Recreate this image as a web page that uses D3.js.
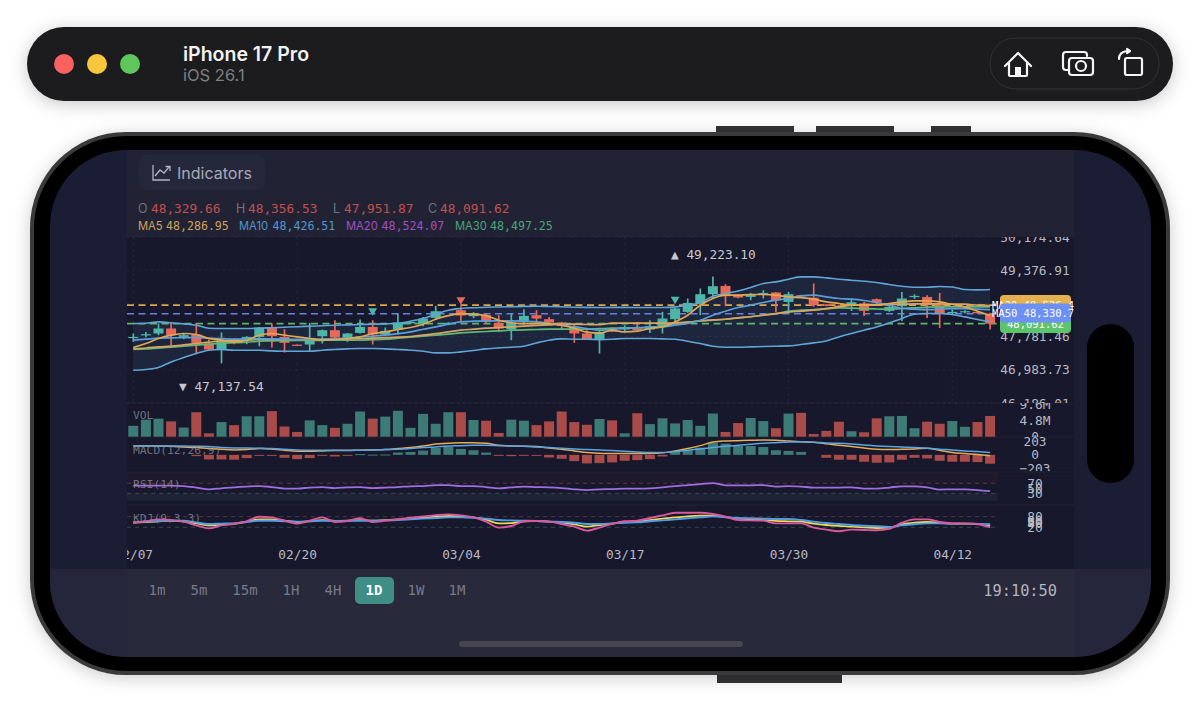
<!DOCTYPE html>
<html>
<head>
<meta charset="utf-8">
<script src="https://cdn.jsdelivr.net/npm/d3@7"></script>
<style>
  html, body { margin: 0; padding: 0; background: #fff; }
  svg { display: block; }
  text { font-family: "DejaVu Sans Mono", monospace; }
  .sans { font-family: Inter, sans-serif; }
  .axis path, .axis line { display: none; }
  .axis text { fill: #b9bac4; font-size: 12.8px; text-anchor: middle; font-family: "DejaVu Sans Mono", monospace; }
</style>
</head>
<body>
<svg id="chart" width="1200" height="718"></svg>
<script>
const dateIndex = [0, 13, 26, 39, 52, 65];
const dateLabels = ["02/07", "02/20", "03/04", "03/17", "03/30", "04/12"];
const timeframes = ["1m", "5m", "15m", "1H", "4H", "1D", "1W", "1M"];

const opens = [47757,47822,47856,47976,47774,47832,47615,47471,47695,47695,47774,48000,47774,47587,47591,47791,47935,47750,47870,48014,47832,47952,48103,48096,48231,48079,48416,48272,48296,48111,47952,48159,48296,48200,48120,48014,47856,47695,47935,47952,47976,47952,48014,48200,48375,48577,48800,48999,48776,48735,48800,48841,48615,48776,48716,48553,48524,48548,48577,48680,48399,48512,48735,48735,48536,48351,48368,48375,48329.66];
const closes = [47774,47839,47976,47815,47815,47630,47471,47671,47654,47774,48000,47791,47630,47563,47750,47935,47760,47856,48014,47832,47918,48120,48132,48216,48392,48111,48288,48336,48135,47976,48120,48279,48216,48120,48038,47856,47719,47894,47899,48014,47935,48031,48216,48457,48591,48800,48992,48752,48721,48793,48831,48656,48800,48752,48536,48519,48500,48608,48399,48601,48495,48697,48759,48536,48336,48375,48392,48344,48091.62];
const highs = [47856,47894,48096,48111,47856,48111,47712,47880,47736,47791,48014,48096,47959,47594,48111,47952,48175,47870,48192,48175,48000,48336,48151,48255,48519,48127,48512,48368,48336,48296,48336,48440,48416,48255,48135,48072,47935,47935,47942,48055,48135,48175,48375,48471,48697,48937,49223.10,49040,48800,48831,48896,48855,48855,48788,49057,48560,48536,48697,48615,48697,48577,48855,48800,48776,48831,48432,48416,48392,48356.53];
const lows = [47654,47767,47815,47575,47719,47358,47454,47137.54,47599,47599,47551,47519,47399,47555,47414,47615,47736,47654,47856,47591,47815,47832,48079,48031,48192,48055,48135,48223,48096,47887,47695,48096,48096,48072,47952,47630,47712,47375,47892,47894,47928,47870,47856,48135,48351,48296,48697,48512,48704,48656,48697,48375,48375,48740,48500,48512,48488,48399,48279,48536,48375,48159,48687,48231,47990,48296,48344,48332,47951.87];

const ma5 = [47519,47615,47736,47815,47856,47832,47736,47695,47654,47695,47815,47856,47815,47774,47736,47695,47712,47736,47774,47856,47894,47952,48000,48079,48199,48284,48332,48320,48284,48175,48115,48091,48091,48091,48055,47983,47887,47863,47935,47894,47911,47976,48014,48135,48296,48536,48697,48776,48776,48793,48793,48776,48735,48716,48680,48615,48577,48536,48536,48536,48577,48615,48639,48639,48615,48553,48495,48392,48286.95];
const ma10 = [47695,47719,47743,47750,47755,47760,47743,47731,47719,47719,47731,47726,47719,47712,47712,47719,47731,47743,47774,47791,47815,47851,47894,47959,48014,48079,48135,48151,48159,48159,48159,48151,48135,48103,48055,48019,47976,47935,47959,47983,47995,48007,48014,48055,48096,48175,48296,48392,48481,48536,48601,48656,48697,48759,48776,48735,48697,48680,48649,48601,48536,48457,48440,48428,48440,48452,48452,48440,48426.51];
const ma20 = [47495,47507,47534,47551,47582,47615,47647,47678,47688,47700,47712,47712,47712,47712,47712,47714,47719,47724,47736,47743,47755,47767,47784,47815,47851,47894,47935,47959,47983,48000,48014,48031,48048,48062,48079,48079,48072,48067,48103,48103,48103,48103,48103,48111,48127,48159,48183,48199,48231,48259,48296,48332,48368,48392,48416,48452,48495,48536,48548,48548,48553,48560,48567,48567,48567,48560,48560,48536,48524.07];
const ma30 = [47471,47483,47503,47527,47551,47575,47599,47623,47635,47647,47671,47678,47683,47688,47690,47692,47695,47695,47695,47707,47719,47743,47767,47791,47815,47839,47870,47887,47904,47918,47935,47942,47952,47959,47959,47959,47959,47971,47983,47988,47993,48000,48031,48096,48127,48159,48175,48199,48231,48259,48296,48332,48392,48416,48428,48452,48471,48464,48452,48445,48440,48457,48471,48488,48495,48495,48495,48495,48497.25];
const bollUpper = [48096,48103,48135,48115,48087,48055,47983,47976,47976,47976,47983,47995,48007,48019,48031,48043,48055,48062,48072,48079,48087,48103,48151,48216,48320,48416,48457,48476,48488,48493,48500,48507,48512,48505,48497,48488,48483,48481,48483,48483,48481,48481,48481,48495,48536,48601,48752,48817,48879,48961,49057,49096,49161,49216,49216,49192,49161,49137,49113,49081,49033,48992,48968,48968,48985,48975,48913,48904,48913];
const bollLower = [46974,46991,47039,47173,47279,47375,47454,47471,47454,47454,47454,47438,47430,47430,47430,47454,47471,47486,47495,47495,47486,47471,47454,47430,47390,47390,47414,47447,47486,47510,47527,47551,47630,47695,47726,47719,47719,47712,47719,47736,47736,47736,47726,47719,47671,47615,47551,47527,47527,47534,47543,47551,47558,47591,47630,47678,47774,47856,47935,48014,48111,48216,48320,48336,48336,48312,48255,48192,48135];

const volumes = [3.2,5.0,5.3,4.5,2.7,7.2,1.0,4.3,3.4,6.0,6.0,7.5,3.0,1.4,4.8,3.4,2.6,3.8,7.4,5.3,5.9,7.6,2.6,6.7,3.8,7.2,7.2,4.9,4.7,1.1,5.0,4.7,3.4,4.5,7.4,4.3,3.5,5.2,4.8,1.0,6.9,3.7,5.4,3.9,4.9,3.2,6.8,1.4,4.0,5.5,4.6,2.5,6.8,7.0,0.8,1.7,4.4,1.6,1.3,5.4,6.0,6.1,2.5,4.4,3.8,4.6,2.9,4.3,6.1];
const macdHist = [0,0,0,0,0,-19,-68,-68,-72,-48,-5,-5,-43,-63,-48,-10,-24,-7,10,3,5,34,43,63,101,116,87,68,34,-14,-19,-14,-14,-39,-58,-92,-126,-121,-111,-87,-77,-63,-24,48,68,106,179,164,130,130,116,68,58,43,0,-43,-72,-72,-101,-116,-111,-72,-43,-53,-87,-101,-101,-106,-130];
const macdDea = [130,130,130,130,130,126,121,106,101,101,97,92,82,72,68,68,68,68,68,72,77,82,92,106,116,130,135,140,140,135,130,126,116,106,97,87,77,72,63,53,43,34,34,48,68,87,106,126,140,155,169,179,188,193,184,174,169,159,145,130,121,116,106,97,82,72,58,48,34];
const macdDif = [130,130,130,126,116,106,92,82,72,77,92,87,68,53,53,58,63,63,68,72,77,92,106,130,159,169,179,179,169,140,130,126,121,101,82,58,34,24,19,19,19,19,29,58,92,135,188,203,208,213,217,213,203,193,184,164,140,121,101,82,77,82,87,97,68,34,19,5,-14];
const rsi = [61,61,61,61,59,53,46,50,54,57,59,55,49,49,53,55,51,54,55,51,53,55,58,59,63,63,59,59,55,50,54,57,55,54,51,46,43,46,47,49,49,50,54,59,63,67,71,62,62,62,63,57,59,57,53,53,53,54,49,49,53,58,58,54,45,46,46,43,39];
const kdjK = [48,52,56,57.5,57.5,48,39,41,42.5,50,57.5,57.5,54,52,54,57.5,56,56,57.5,57.5,59,61,65,69,72.5,76,76,74,69,61,59,57.5,56,52,50,46,39,39,42.5,46,48,54,59,65,71,76,82,76,72.5,71,69,67,67,61,52,44,39,33,29,26,22,31,37,42.5,42.5,41,41,39,37];
const kdjD = [46,50,54,56,54,42.5,31,35,41,52,65,65,57.5,50,54,61,56,57.5,61,57.5,61,65,69,74,80,84,82,76,63,42.5,44,54,56,52,46,37,24,33,41,50,52,61,69,76,82,86,86,78,69,65,61,56,54,52,41,33,27.5,24,20,16,18,37,46,50,46,41,41,39,27.5];
const kdjJ = [46,54,65,61,52,31,14,31,39,54,80,76,57.5,41,57.5,76,50,56,71,50,57.5,65,74,82,89,93,87.5,76,52,18,27.5,54,56,52,39,24,1,18,39,54,57.5,72.5,87.5,102.5,102.5,102.5,95,80,61,59,57.5,42.5,42.5,42.5,18,7,-2.5,7,5,3,11,46,65,65,50,42.5,41,37,20];

const priceTicks = [50174.64, 49376.91, 48579.18, 47781.46, 46983.73, 46186.01];
const shownPriceTicks = [50174.64, 49376.91, 47781.46, 46983.73, 46186.01];
const volTicks = [9.6, 4.8, 0];
const macdTicks = [203, 0, -203];
const rsiTicks = [70, 50, 30];
const kdjTicks = [80, 60, 50, 40, 20];

const markerIndex = [19, 26, 43];
const markerPrice = [48404, 48668, 48680];
const markerColor = ["#4db6a6", "#e8695a", "#4db6a6"];

const up = "#4db6a6", down = "#e8695a";
const upDim = "#3c7b76", downDim = "#a84b49";
const n = closes.length;

const svg = d3.select("#chart");
const defs = svg.append("defs");

const clip = (id, x, y, w, h) => defs.append("clipPath").attr("id", id)
  .append("rect").attr("x", x).attr("y", y).attr("width", w).attr("height", h);
clip("pricePane", 127, 237, 947, 166);
clip("volPane", 127, 403, 947, 34);
clip("macdPane", 127, 437, 947, 34);
clip("dateClip", 127, 540, 947, 29);
defs.append("clipPath").attr("id", "screenClip").append("rect")
  .attr("x", 50).attr("y", 150).attr("width", 1101).attr("height", 507).attr("rx", 76);

// device toolbar
const toolbar = svg.append("g");
toolbar.append("rect").attr("x", 27).attr("y", 27).attr("width", 1146).attr("height", 74).attr("rx", 37)
  .attr("fill", "#1c1c1e").style("filter", "drop-shadow(0 3px 9px rgba(0,0,0,.22))");
[["#f9625f", 64], ["#f8c63d", 97], ["#5ec65b", 130]].forEach(([c, x]) => {
  toolbar.append("circle").attr("cx", x).attr("cy", 64).attr("r", 10).attr("fill", c);
});
toolbar.append("text").attr("class", "sans").attr("x", 183).attr("y", 61).attr("font-size", 19.5)
  .attr("font-weight", 600).attr("fill", "#f2f2f2").text("iPhone 17 Pro");
toolbar.append("text").attr("class", "sans").attr("x", 183).attr("y", 81).attr("font-size", 16.5)
  .attr("fill", "#7f7f82").text("iOS 26.1");
toolbar.append("rect").attr("x", 990).attr("y", 38).attr("width", 169).attr("height", 51).attr("rx", 25.5)
  .attr("fill", "none").attr("stroke", "#333335").attr("stroke-width", 1);
const icons = toolbar.append("g").attr("fill", "none").attr("stroke", "#f5f5f5").attr("stroke-width", 2.2)
  .attr("stroke-linejoin", "round").attr("stroke-linecap", "round");
icons.append("path").attr("d", "M1005 66 L1018 53 L1031 66 M1009 63 V75 Q1009 76 1010 76 H1026 Q1027 76 1027 75 V63");
icons.append("rect").attr("x", 1015).attr("y", 67).attr("width", 6).attr("height", 9).attr("fill", "#f5f5f5").attr("stroke", "none");
icons.append("path").attr("d", "M1068 70 H1066 Q1063 70 1063 67 V55 Q1063 52 1066 52 H1084 Q1087 52 1087 55 V56");
icons.append("rect").attr("x", 1069).attr("y", 58).attr("width", 24).attr("height", 17).attr("rx", 3).attr("fill", "#1c1c1e");
icons.append("circle").attr("cx", 1081).attr("cy", 66).attr("r", 5);
icons.append("rect").attr("x", 1125).attr("y", 58).attr("width", 17).attr("height", 17).attr("rx", 2);
icons.append("path").attr("d", "M1119 59 Q1119 52 1127 51");
icons.append("path").attr("d", "M1127 49 L1130 51 L1127 53").attr("fill", "#f5f5f5");

// phone body
[[716, 126, 78], [816, 126, 78], [931, 126, 40]].forEach(([x, y, w]) => {
  svg.append("rect").attr("x", x).attr("y", y).attr("width", w).attr("height", 8).attr("fill", "#333335");
});
svg.append("rect").attr("x", 717).attr("y", 673).attr("width", 125).attr("height", 10).attr("fill", "#333335");
svg.append("rect").attr("x", 30).attr("y", 132).attr("width", 1140).attr("height", 543).attr("rx", 96)
  .attr("fill", "#3a3a3c").style("filter", "drop-shadow(0 3px 9px rgba(0,0,0,.2))");
svg.append("rect").attr("x", 34).attr("y", 136).attr("width", 1132).attr("height", 535).attr("rx", 92).attr("fill", "#000");

const screen = svg.append("g").attr("clip-path", "url(#screenClip)");
const block = (x, y, w, h, c) => screen.append("rect").attr("x", x).attr("y", y).attr("width", w).attr("height", h).attr("fill", c);
block(50, 150, 1101, 507, "#1b1d34");
block(127, 237, 947, 332, "#17182b");
block(127, 150, 947, 87, "#212335");
block(50, 569, 1101, 88, "#25263c");
block(127, 569, 947, 88, "#28293b");

// header
block(139, 155, 126, 35, "#25273a").attr("rx", 8);
screen.append("path").attr("d", "M153 165 V180 H170 M155 176 L160 170 L164 173 L169 167 M165.5 166.5 H170 V171")
  .attr("fill", "none").attr("stroke", "#b4b5c1").attr("stroke-width", 1.3);
screen.append("text").attr("class", "sans").attr("x", 177).attr("y", 178.5).attr("font-size", 16)
  .attr("fill", "#a9aab6").text("Indicators");

const legendText = (x, y, str, color, size, cls) => screen.append("text").attr("class", cls || null)
  .attr("x", x).attr("y", y).attr("font-size", size).attr("fill", color).text(str);
[["O", 138, 151, opens], ["H", 236, 248, highs], ["L", 333, 344, lows], ["C", 428, 440, closes]].forEach(([k, lx, vx, arr]) => {
  legendText(lx, 213, k, "#70727f", 12.5, "sans");
  legendText(vx, 213, d3.format(",.2f")(arr[n - 1]), "#c4504e", 12.8);
});
[["MA5", 138, 166, ma5, "#d0a25c"], ["MA10", 239, 272.5, ma10, "#5596cf"], ["MA20", 346, 381.5, ma20, "#a24fc0"], ["MA30", 455, 490, ma30, "#4aa67a"]].forEach(([k, lx, vx, arr, c]) => {
  legendText(lx, 229.5, k, c, 11.2, "sans");
  legendText(vx, 229.5, d3.format(",.2f")(arr[n - 1]), c, 11.6);
});

// scales
const x = d3.scaleLinear().domain([0, n - 1]).range([133.3, 990.1]);
const yPrice = d3.scaleLinear().domain([46186.01, 50174.64]).range([403, 237]);
const yVol = d3.scaleLinear().domain([0, 9.6]).range([436.7, 404]);
const yMacd = d3.scaleLinear().domain([-203, 203]).range([468.7, 441]);
const yRsi = d3.scaleLinear().domain([0, 100]).range([500.8, 475.8]);
const yKdj = d3.scaleLinear().domain([20, 80]).range([527.3, 516.7]);
const bodyW = 10;

const lineOf = (y) => d3.line().x((d, i) => x(i)).y((d) => y(d)).curve(d3.curveMonotoneX);
const drawLine = (parent, arr, y, color, w) => parent.append("path").datum(arr)
  .attr("d", lineOf(y)).attr("fill", "none").attr("stroke", color).attr("stroke-width", w || 1.6);

// grid and pane rules
const grid = screen.append("g").attr("stroke", "#ffffff").attr("stroke-opacity", 0.07).attr("stroke-dasharray", "2,4");
grid.selectAll(".v").data(dateIndex).enter().append("line")
  .attr("x1", (d) => x(d)).attr("x2", (d) => x(d)).attr("y1", 237).attr("y2", 403);
grid.selectAll(".h").data(priceTicks).enter().append("line")
  .attr("x1", 127).attr("x2", 998).attr("y1", (d) => yPrice(d)).attr("y2", (d) => yPrice(d));
[403, 437, 472, 505].forEach((y) => {
  screen.append("line").attr("x1", 127).attr("x2", 1074).attr("y1", y).attr("y2", y)
    .attr("stroke", "#ffffff").attr("stroke-opacity", 0.05);
});

// price pane
const price = screen.append("g").attr("clip-path", "url(#pricePane)");
const band = d3.area().x((d, i) => x(i)).y0((d, i) => yPrice(bollLower[i])).y1((d) => yPrice(d)).curve(d3.curveMonotoneX);
price.append("path").datum(bollUpper).attr("d", band).attr("fill", "#5b9ed8").attr("fill-opacity", 0.11);

const priceLines = [[48536, "#d9a84e"], [48330.7, "#6a80e2"], [48091.62, "#5fb36a"]];
price.selectAll(".priceLine").data(priceLines).enter().append("line")
  .attr("x1", 127).attr("x2", 998).attr("y1", (d) => yPrice(d[0])).attr("y2", (d) => yPrice(d[0]))
  .attr("stroke", (d) => d[1]).attr("stroke-width", 1.7).attr("stroke-dasharray", "7,4.5");

const candleColor = (i) => (closes[i] >= opens[i] ? up : down);
price.selectAll(".wick").data(closes).enter().append("line")
  .attr("x1", (d, i) => x(i)).attr("x2", (d, i) => x(i))
  .attr("y1", (d, i) => yPrice(highs[i])).attr("y2", (d, i) => yPrice(lows[i]))
  .attr("stroke", (d, i) => candleColor(i)).attr("stroke-width", 1.7);
price.selectAll(".body").data(closes).enter().append("rect")
  .attr("x", (d, i) => x(i) - bodyW / 2).attr("width", bodyW)
  .attr("y", (d, i) => yPrice(Math.max(opens[i], d)))
  .attr("height", (d, i) => Math.max(1.2, Math.abs(yPrice(opens[i]) - yPrice(d))))
  .attr("fill", (d, i) => candleColor(i));

drawLine(price, bollUpper, yPrice, "#5fa5d6");
drawLine(price, bollLower, yPrice, "#5fa5d6");
drawLine(price, ma30, yPrice, "#5fb878", 1.7);
drawLine(price, ma20, yPrice, "#d9a45f", 1.7);
drawLine(price, ma10, yPrice, "#5a9fdc", 1.7);
drawLine(price, ma5, yPrice, "#e3a74f", 1.7);

price.selectAll(".marker").data(markerIndex).enter().append("path")
  .attr("d", d3.symbol(d3.symbolTriangle, 34))
  .attr("transform", (d, i) => `translate(${x(d)},${yPrice(markerPrice[i])}) rotate(180)`)
  .attr("fill", (d, i) => markerColor[i]);

screen.append("text").attr("x", 671).attr("y", 258.5).attr("font-size", 12.8).attr("fill", "#c8c9d2")
  .text("▲ " + d3.format(",.2f")(d3.max(highs)));
screen.append("text").attr("x", 179).attr("y", 390.5).attr("font-size", 12.8).attr("fill", "#c8c9d2")
  .text("▼ " + d3.format(",.2f")(d3.min(lows)));

// volume
const vol = screen.append("g").attr("clip-path", "url(#volPane)");
vol.selectAll(".barVol").data(volumes).enter().append("rect")
  .attr("x", (d, i) => x(i) - bodyW / 2).attr("width", bodyW)
  .attr("y", (d) => yVol(d)).attr("height", (d) => yVol(0) - yVol(d))
  .attr("fill", (d, i) => (closes[i] >= opens[i] ? upDim : downDim));

// macd
const macd = screen.append("g").attr("clip-path", "url(#macdPane)");
macd.selectAll(".barMacd").data(macdHist).enter().append("rect")
  .attr("x", (d, i) => x(i) - bodyW / 2).attr("width", bodyW)
  .attr("y", (d) => Math.min(yMacd(d), yMacd(0)))
  .attr("height", (d) => (d === 0 ? 0 : Math.max(1, Math.abs(yMacd(d) - yMacd(0)))))
  .attr("fill", (d) => (d >= 0 ? upDim : downDim));
drawLine(macd, macdDif, yMacd, "#e5ad55", 1.5);
drawLine(macd, macdDea, yMacd, "#5aa5e6", 1.5);

// rsi
block(127, 472, 871, 11.3, "#3a1f33").attr("fill-opacity", 0.28);
block(127, 493.3, 871, 7.5, "#262a3c").attr("fill-opacity", 0.6);
[[70, "#7a4a55"], [30, "#3f6b62"]].forEach(([v, c]) => {
  screen.append("line").attr("x1", 127).attr("x2", 998).attr("y1", yRsi(v)).attr("y2", yRsi(v))
    .attr("stroke", c).attr("stroke-opacity", 0.6).attr("stroke-dasharray", "4,4");
});
drawLine(screen, rsi, yRsi, "#a06ee0", 1.8);

// kdj
[[80, "#7a4a55"], [20, "#3f6b62"]].forEach(([v, c]) => {
  screen.append("line").attr("x1", 127).attr("x2", 998).attr("y1", yKdj(v)).attr("y2", yKdj(v))
    .attr("stroke", c).attr("stroke-opacity", 0.6).attr("stroke-dasharray", "4,4");
});
drawLine(screen, kdjD, yKdj, "#f0d84f", 1.8);
drawLine(screen, kdjK, yKdj, "#4d9de8", 1.9);
drawLine(screen, kdjJ, yKdj, "#d9589f", 1.9);

// pane titles
[["VOL", 419], ["MACD(12,26,9)", 454], ["RSI(14)", 488], ["KDJ(9,3,3)", 522]].forEach(([t, y]) => {
  screen.append("text").attr("x", 133).attr("y", y).attr("font-size", 11.3)
    .attr("fill", "#8f909c").attr("fill-opacity", 0.75).text(t);
});

// axes
const axisAt = (y, ticks, fmt, clipId) => {
  const g = screen.append("g").attr("class", "axis")
    .call(d3.axisRight(y).tickValues(ticks).tickFormat(fmt).tickSize(0).tickPadding(0));
  g.selectAll("text").attr("x", 1035);
  if (clipId) g.attr("clip-path", `url(#${clipId})`);
};
axisAt(yPrice, shownPriceTicks, d3.format(",.2f"), "pricePane");
axisAt(yVol, volTicks, (d) => (d === 0 ? "0" : d.toFixed(1) + "M"), "volPane");
axisAt(yMacd, macdTicks, (d) => d3.format("d")(d).replace("-", "−"), "macdPane");
axisAt(yRsi, rsiTicks, d3.format("d"));
axisAt(yKdj, kdjTicks, d3.format("d"));

const xAxis = screen.append("g").attr("class", "axis").attr("clip-path", "url(#dateClip)")
  .call(d3.axisBottom(x).tickValues(dateIndex).tickFormat((d, i) => dateLabels[i]).tickSize(0).tickPadding(0));
xAxis.selectAll("text").attr("y", 549.5).attr("dy", "0.71em");

// price tags on the right edge
const tags = [
  { top: 295, h: 20, fill: "#e3b24f", label: "MA20 48,536.4", tx: 992, ty: 309 },
  { top: 315, h: 18, fill: "#5cc46a", label: "48,091.62", tx: 1007, ty: 327.5 }
];
tags.forEach((t) => {
  block(1000, t.top, 71, t.h, t.fill).attr("rx", 4);
  screen.append("text").attr("x", t.tx).attr("y", t.ty).attr("font-size", 10.5).attr("fill", "#fff").text(t.label);
});
block(1000, 303.5, 71, 19, "#6d90f5").attr("rx", 4);
screen.append("text").attr("x", 992).attr("y", 317).attr("font-size", 10.5).attr("fill", "#fff").text("MA50 48,330.7");

// bottom bar
const tfX = [157, 199, 245, 291, 333, 374, 416, 457];
block(355, 577, 39, 27, "#3e8e85").attr("rx", 5);
screen.selectAll(".tf").data(timeframes).enter().append("text")
  .attr("x", (d, i) => tfX[i]).attr("y", 595).attr("text-anchor", "middle").attr("font-size", 14)
  .attr("font-weight", (d) => (d === "1D" ? 700 : 400))
  .attr("fill", (d) => (d === "1D" ? "#ffffff" : "#787a88")).text((d) => d);
screen.append("text").attr("x", 1057).attr("y", 595.5).attr("text-anchor", "end").attr("font-size", 15.3)
  .attr("fill", "#b3b4bd").text("19:10:50");
block(459, 641, 284, 6, "#45464f").attr("rx", 3);

// camera island
svg.append("rect").attr("x", 1087).attr("y", 324).attr("width", 47).attr("height", 159).attr("rx", 23.5).attr("fill", "#000");
</script>
</body>
</html>
